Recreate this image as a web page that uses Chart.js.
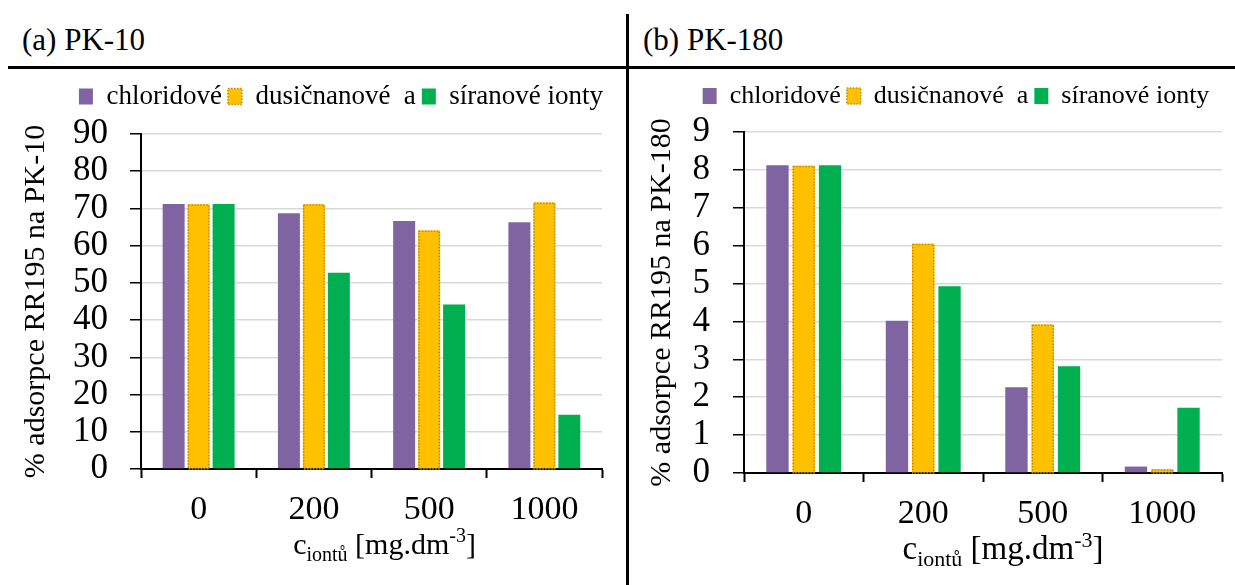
<!DOCTYPE html>
<html>
<head>
<meta charset="utf-8">
<script src="https://cdn.jsdelivr.net/npm/chart.js@4.4.1/dist/chart.umd.min.js"></script>
<style>
  body { margin: 0; background: #fff; width: 1235px; height: 585px; position: relative; overflow: hidden;
         font-family: 'Liberation Serif', 'Times New Roman', serif; }
  .head { position: absolute; top: 22px; font-size: 31px; line-height: 36px; color: #000; }
  .hline { position: absolute; left: 8px; top: 66px; width: 1227px; height: 3px; background: #000; }
  .vline { position: absolute; left: 626px; top: 14px; width: 3px; height: 571px; background: #000; }
  canvas { position: absolute; top: 68px; }
</style>
</head>
<body>
<div class="head" style="left:22px">(a) PK-10</div>
<div class="head" style="left:643px">(b) PK-180</div>
<div class="hline"></div>
<div class="vline"></div>
<canvas id="grafA" width="625" height="517" style="left:0px"></canvas>
<canvas id="grafB" width="605" height="517" style="left:630px"></canvas>
<script>
const kategorie = ['0', '200', '500', '1000'];
const nazvySerii = ['chloridové', 'dusičnanové  a', 'síranové ionty'];

const pk10Chloridove = [71.2, 68.7, 66.6, 66.3];
const pk10Dusicnanove = [71.1, 71.1, 64.1, 71.6];
const pk10Siranove = [71.2, 52.7, 44.2, 14.6];

const pk180Chloridove = [8.12, 4.02, 2.26, 0.17];
const pk180Dusicnanove = [8.11, 6.05, 3.92, 0.10];
const pk180Siranove = [8.12, 4.93, 2.82, 1.72];

const barvy = ['#8064A2', '#FFC000', '#00B050'];
const okrajZluta = '#BF9000';
const pismo = '"Liberation Serif", "Times New Roman", serif';

Chart.defaults.font.family = pismo;
Chart.defaults.color = '#000';

// teckovany okraj u zlutych sloupcu
const teckovanyOkraj = {
  id: 'teckovanyOkraj',
  afterDatasetsDraw(chart) {
    const meta = chart.getDatasetMeta(1);
    const ctx = chart.ctx;
    ctx.save();
    ctx.strokeStyle = okrajZluta;
    ctx.lineWidth = 1.5;
    ctx.setLineDash([1.5, 1.5]);
    meta.data.forEach(bar => {
      const p = bar.getProps(['x', 'y', 'base', 'width']);
      const top = Math.min(p.y, p.base);
      const h = Math.abs(p.base - p.y);
      ctx.strokeRect(p.x - p.width / 2 + 0.75, top + 0.75, p.width - 1.5, h);
    });
    ctx.restore();
  }
};

// vetsi mezera pod legendou a posun legendy doprava
const upravaLegendy = {
  id: 'upravaLegendy',
  beforeInit(chart, args, opts) {
    const puvodni = chart.legend.fit;
    chart.legend.fit = function () {
      puvodni.call(this);
      this.height += opts.mezera;
    };
  },
  afterLayout(chart, args, opts) {
    chart.legend.left += opts.posun;
    chart.legend.right += opts.posun;
  }
};

// popisek osy x s dolnim a hornim indexem
function popisekX(posun, odspodu, vel) {
  const mala = Math.round(vel * 0.66);
  return {
    id: 'popisekX',
    afterDraw(chart) {
      const sx = chart.scales.x;
      const ctx = chart.ctx;
      const casti = [
        ['c', vel, 0], ['iontů', mala, 7], [' [mg.dm', vel, 0], ['-3', mala, -12], [']', vel, 0]
      ];
      ctx.save();
      ctx.fillStyle = '#000';
      ctx.textBaseline = 'alphabetic';
      let celkem = 0;
      casti.forEach(c => { ctx.font = c[1] + 'px ' + pismo; celkem += ctx.measureText(c[0]).width; });
      let x = (sx.left + sx.right) / 2 + posun - celkem / 2;
      const y = sx.top + odspodu;
      casti.forEach(c => {
        ctx.font = c[1] + 'px ' + pismo;
        ctx.fillText(c[0], x, y + c[2]);
        x += ctx.measureText(c[0]).width;
      });
      ctx.restore();
    }
  };
}

function legendaPolozky(chart) {
  const zaklad = Chart.defaults.plugins.legend.labels.generateLabels(chart);
  return zaklad.map((it, i) => Object.assign(it, {
    lineWidth: i === 1 ? 1.5 : 0,
    strokeStyle: okrajZluta,
    lineDash: i === 1 ? [1.5, 1.5] : []
  }));
}

function vytvorGraf(id, hodnoty, maxY, krok, nadpisY, n) {
  const ctx = document.getElementById(id).getContext('2d');
  return new Chart(ctx, {
    type: 'bar',
    data: {
      labels: kategorie,
      datasets: hodnoty.map((data, i) => ({
        label: nazvySerii[i],
        data: data,
        backgroundColor: barvy[i],
        borderWidth: 0,
        categoryPercentage: n.katProc,
        barPercentage: n.barProc
      }))
    },
    options: {
      responsive: false,
      animation: false,
      devicePixelRatio: 1,
      layout: { padding: { left: 0, right: n.vpravo, top: n.nahore, bottom: 0 } },
      plugins: {
        upravaLegendy: { mezera: n.mezera, posun: n.posunLeg },
        legend: {
          position: 'top',
          labels: {
            font: { size: n.legPismo },
            boxWidth: 14,
            boxHeight: 16,
            padding: 6,
            generateLabels: legendaPolozky
          }
        },
        tooltip: { enabled: false }
      },
      scales: {
        x: {
          afterFit: s => { s.height = n.vyskaX; },
          grid: {
            display: true, drawOnChartArea: false, drawTicks: true,
            tickLength: 9, tickColor: '#000', tickWidth: 2, offset: true
          },
          border: { color: '#000', width: 2 },
          ticks: { font: { size: 34 }, padding: 12 }
        },
        y: {
          min: 0, max: maxY,
          afterFit: s => { s.width = n.sirkaY; },
          ticks: { stepSize: krok, autoSkip: false, font: { size: 35 }, padding: n.odsazeniY },
          grid: { color: '#D9D9D9', lineWidth: 1.5, tickColor: '#000', tickWidth: 1.5, tickLength: 11 },
          border: { color: '#000', width: 2 },
          title: {
            display: true, text: nadpisY,
            font: { size: 30 }, padding: { top: n.titulekY, bottom: 0 }
          }
        }
      }
    },
    plugins: [teckovanyOkraj, upravaLegendy, popisekX(n.posunX, n.spodekX, n.velX)]
  });
}

function generujGrafy() {
  vytvorGraf('grafA', [pk10Chloridove, pk10Dusicnanove, pk10Siranove], 90, 10,
    '% adsorpce RR195 na PK-10',
    { katProc: 0.65, barProc: 0.88, vpravo: 23, nahore: 9, mezera: 14, posunLeg: 40, legPismo: 27,
      vyskaX: 116, sirkaY: 141, odsazeniY: 22, titulekY: 18, posunX: 13, spodekX: 85, velX: 30 });

  vytvorGraf('grafB', [pk180Chloridove, pk180Dusicnanove, pk180Siranove], 9, 1,
    '% adsorpce RR195 na PK-180',
    { katProc: 0.66, barProc: 0.85, vpravo: 13, nahore: 9, mezera: 13, posunLeg: 30, legPismo: 26,
      vyskaX: 112, sirkaY: 114, odsazeniY: 23, titulekY: 14, posunX: 20, spodekX: 86, velX: 33 });
}

document.fonts.load('30px "Liberation Serif"').then(generujGrafy, generujGrafy);
</script>
</body>
</html>
